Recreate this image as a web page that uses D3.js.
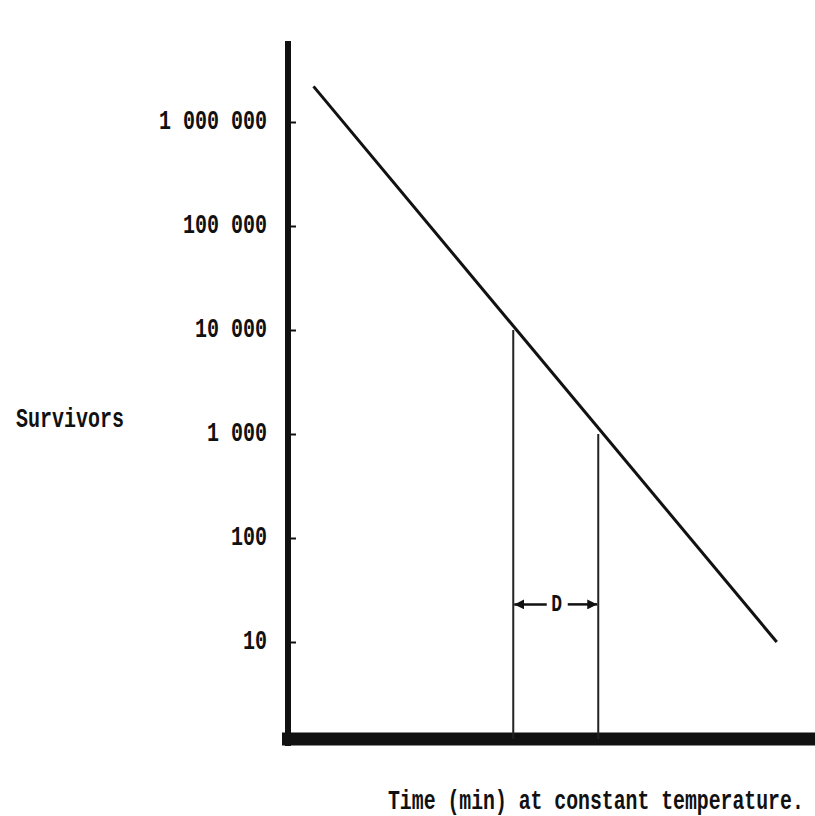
<!DOCTYPE html>
<html>
<head>
<meta charset="utf-8">
<script src="https://cdn.jsdelivr.net/npm/d3@7"></script>
<style>
  body { margin: 0; background: #fff; }
  text { font-family: "Liberation Mono", monospace; font-weight: bold; fill: #111; }
</style>
</head>
<body>
<svg id="chart"></svg>
<script>
// survival curve (time in min, survivors)
const curveTime = [0.3, 5.75];
const curveSurvivors = [2200000, 10];

// the two drop lines that mark one decimal reduction
const dTime = [2.65, 3.65];
const dSurvivors = [10000, 1000];
const dArrowLevel = 23;

const yTicks = [10, 100, 1000, 10000, 100000, 1000000];
const yLabel = 'Survivors';
const xLabel = 'Time (min) at constant temperature.';
const dLabel = 'D';

const svgWidth = 815;
const svgHeight = 816;

const svg = d3.select('#chart')
  .attr('width', svgWidth)
  .attr('height', svgHeight);

const defs = svg.append('defs');
defs.append('marker')
  .attr('id', 'arrow')
  .attr('viewBox', '0 0 10 10')
  .attr('refX', 10)
  .attr('refY', 5)
  .attr('markerWidth', 4)
  .attr('markerHeight', 4)
  .attr('orient', 'auto-start-reverse')
  .append('path')
  .attr('d', 'M0,0 L10,5 L0,10 z')
  .attr('fill', '#111');

//Define scales
const xScale = d3.scaleLinear()
  .domain([0, 6.2])
  .range([288, 815]);

const yScale = d3.scaleLog()
  .domain([1, 1000000])
  .range([746, 122]);

const yTop = 6000000;

// thick hand drawn axes
svg.append('line')
  .attr('x1', xScale(0)).attr('x2', xScale(0))
  .attr('y1', yScale(yTop)).attr('y2', yScale(1))
  .attr('stroke', '#111')
  .attr('stroke-width', 6);

svg.append('line')
  .attr('x1', xScale(0) - 6).attr('x2', xScale(6.2))
  .attr('y1', yScale(1) - 7).attr('y2', yScale(1) - 7)
  .attr('stroke', '#111')
  .attr('stroke-width', 13);

//Define Y-axis
const yAxis = d3.axisLeft(yScale)
  .tickValues(yTicks)
  .tickSizeInner(-8)
  .tickSizeOuter(0)
  .tickPadding(21)
  .tickFormat(d => d3.format(',')(d).replace(/,/g, ' '));

const gy = svg.append('g')
  .attr('transform', 'translate(' + xScale(0) + ',0)')
  .call(yAxis);

gy.select('.domain').remove();
gy.selectAll('.tick line')
  .attr('stroke', '#111')
  .attr('stroke-width', 2);
gy.selectAll('.tick text')
  .attr('font-size', 20)
  .attr('font-family', '"Liberation Mono", monospace')
  .attr('fill', '#111')
  .attr('transform', 'scale(1,1.35)')
  .attr('dy', '0.25em');

// survival line
const line = d3.line()
  .x((d, i) => xScale(curveTime[i]))
  .y(d => yScale(d));

svg.append('path')
  .datum(curveSurvivors)
  .attr('d', line)
  .attr('fill', 'none')
  .attr('stroke', '#111')
  .attr('stroke-width', 3);

// drop lines for D
svg.selectAll('.drop')
  .data(dSurvivors)
  .enter()
  .append('line')
  .attr('class', 'drop')
  .attr('x1', (d, i) => xScale(dTime[i]))
  .attr('x2', (d, i) => xScale(dTime[i]))
  .attr('y1', d => yScale(d))
  .attr('y2', yScale(1) - 7)
  .attr('stroke', '#222')
  .attr('stroke-width', 2);

// D arrows
const arrowY = yScale(dArrowLevel);
const mid = (xScale(dTime[0]) + xScale(dTime[1])) / 2;

svg.append('line')
  .attr('x1', mid - 9).attr('x2', xScale(dTime[0]) + 1)
  .attr('y1', arrowY).attr('y2', arrowY)
  .attr('stroke', '#111').attr('stroke-width', 2.5)
  .attr('marker-end', 'url(#arrow)');

svg.append('line')
  .attr('x1', mid + 12).attr('x2', xScale(dTime[1]) - 1)
  .attr('y1', arrowY).attr('y2', arrowY)
  .attr('stroke', '#111').attr('stroke-width', 2.5)
  .attr('marker-end', 'url(#arrow)');

svg.append('text')
  .attr('x', mid + 1)
  .attr('y', (arrowY + 7) / 1.3)
  .attr('transform', 'scale(1,1.3)')
  .attr('text-anchor', 'middle')
  .attr('font-size', 18)
  .text(dLabel);

// axis labels
svg.append('text')
  .attr('x', 16)
  .attr('y', 427 / 1.35)
  .attr('transform', 'scale(1,1.35)')
  .attr('font-size', 20)
  .text(yLabel);

svg.append('text')
  .attr('x', 388)
  .attr('y', 809 / 1.35)
  .attr('transform', 'scale(1,1.35)')
  .attr('font-size', 19.8)
  .text(xLabel);
</script>
</body>
</html>
